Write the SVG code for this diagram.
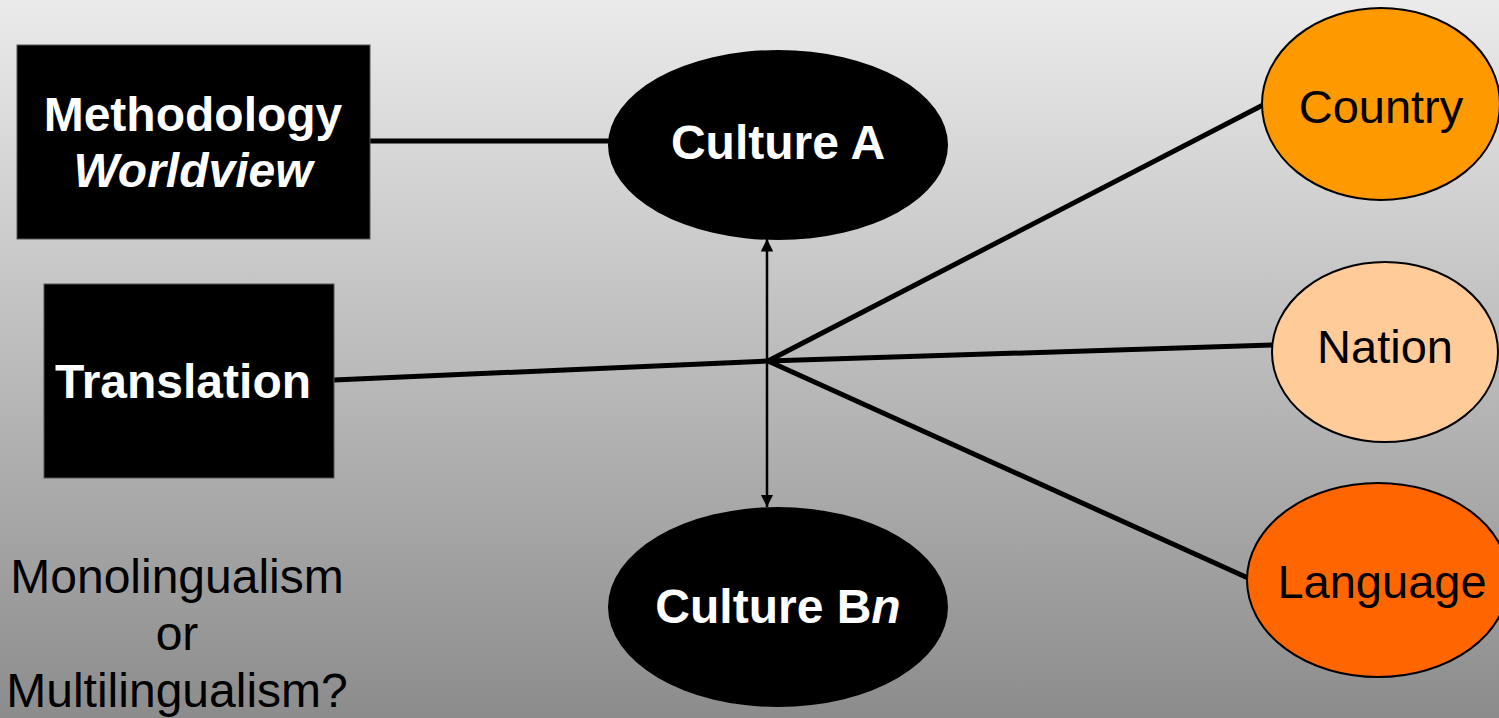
<svg xmlns="http://www.w3.org/2000/svg" width="1499" height="718" viewBox="0 0 1499 718">
<defs>
<linearGradient id="bg" x1="0" y1="0" x2="0" y2="1">
<stop offset="0" stop-color="#ebebeb"/>
<stop offset="1" stop-color="#8c8c8c"/>
</linearGradient>
<marker id="ah" viewBox="0 0 10 10" refX="10" refY="5" markerWidth="5" markerHeight="5" orient="auto-start-reverse" markerUnits="strokeWidth">
<path d="M0,0 L10,5 L0,10 z" fill="#000"/>
</marker>
<style>
.box{fill:#000;stroke:#555;stroke-width:1}
.bt{font-family:"Liberation Sans",Arial,sans-serif;font-weight:bold;font-size:48px;fill:#fff;text-anchor:middle}
.ct{font-family:"Liberation Sans",Arial,sans-serif;font-size:47px;fill:#000;text-anchor:middle}
.lt{font-family:"Liberation Sans",Arial,sans-serif;font-size:48px;fill:#000;text-anchor:middle}
.ln{stroke:#000;stroke-width:5;fill:none}
.el{stroke:#000;stroke-width:2}
</style>
</defs>
<rect x="0" y="0" width="1499" height="718" fill="url(#bg)"/>
<g id="connectors">
<line class="ln" x1="370" y1="141" x2="612" y2="141"/>
<line class="ln" x1="334" y1="380" x2="768" y2="361"/>
<line class="ln" x1="768" y1="361" x2="1263" y2="105"/>
<line class="ln" x1="768" y1="361" x2="1273" y2="345"/>
<line class="ln" x1="768" y1="361" x2="1248" y2="578"/>
<line x1="767" y1="239" x2="767" y2="507" stroke="#000" stroke-width="2.5" marker-start="url(#ah)" marker-end="url(#ah)"/>
</g>
<g id="methodology">
<rect class="box" x="17" y="45" width="353" height="194"/>
<text class="bt" x="193" y="131">Methodology</text>
<text class="bt" x="193" y="187" font-style="italic">Worldview</text>
</g>
<g id="translation">
<rect class="box" x="44" y="284" width="290" height="194"/>
<text class="bt" x="183" y="398">Translation</text>
</g>
<g id="cultureA">
<ellipse cx="778" cy="145" rx="170" ry="95" fill="#000"/>
<text class="bt" x="778" y="159">Culture A</text>
</g>
<g id="cultureB">
<ellipse cx="778" cy="607" rx="170" ry="100" fill="#000"/>
<text class="bt" x="778" y="623">Culture B<tspan font-style="italic">n</tspan></text>
</g>
<g id="country">
<ellipse class="el" cx="1381" cy="104" rx="119" ry="96" fill="#ff9900"/>
<text class="ct" x="1381" y="123">Country</text>
</g>
<g id="nation">
<ellipse class="el" cx="1385" cy="352" rx="113" ry="90" fill="#ffcc99"/>
<text class="ct" x="1385" y="363">Nation</text>
</g>
<g id="language">
<ellipse class="el" cx="1378" cy="580" rx="131" ry="97" fill="#ff6600"/>
<text class="ct" x="1382" y="598">Language</text>
</g>
<g id="question">
<text class="lt" x="177" y="593">Monolingualism</text>
<text class="lt" x="177" y="650">or</text>
<text class="lt" x="177" y="707">Multilingualism?</text>
</g>
</svg>
